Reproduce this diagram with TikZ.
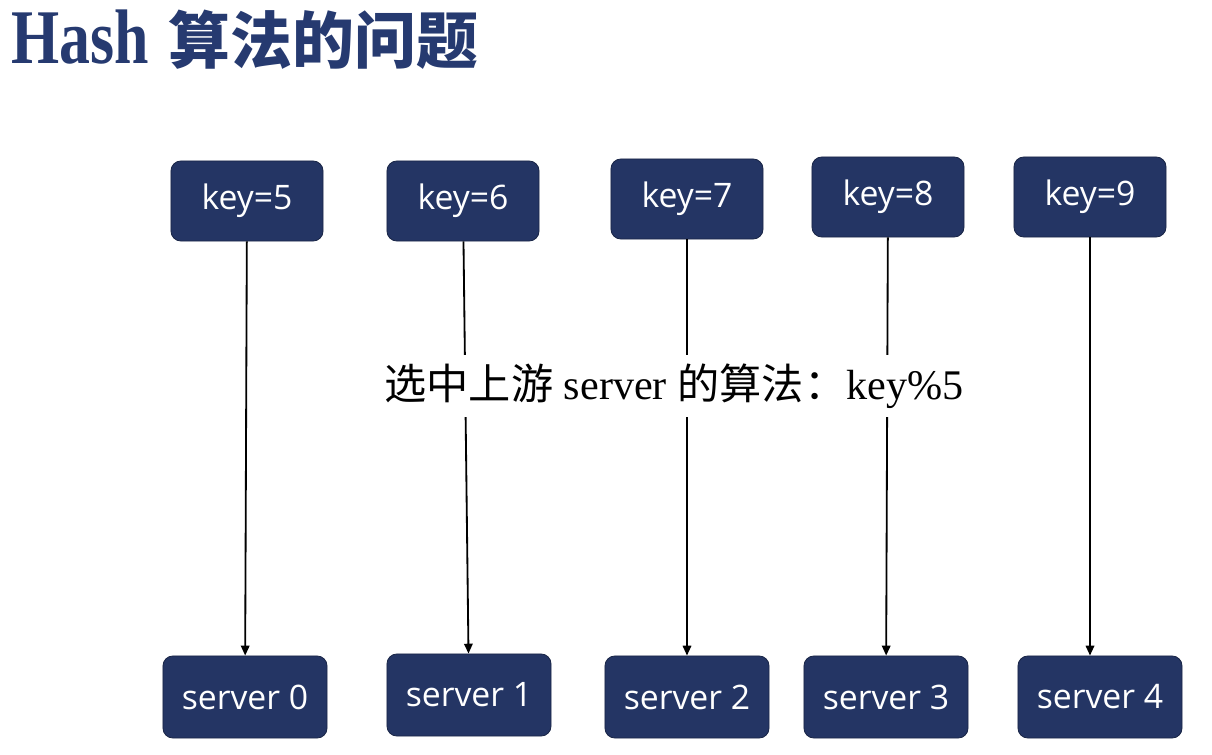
\documentclass[tikz,border=0pt]{standalone}
\usepackage{fontspec}
\setmainfont{Liberation Serif}
\newfontfamily\cjk{Noto Sans CJK SC}
\newfontfamily\titlefont[FakeStretch=0.8]{Liberation Serif}
\newfontfamily\boxfont{Open Sans}
\usetikzlibrary{arrows.meta,positioning}
\definecolor{slidenavy}{RGB}{36,53,100}
\definecolor{titlenavy}{RGB}{38,58,112}
\newcommand{\keynode}[3]{\node[keybox] (#1) at (#2) {#3};}
\newcommand{\servernode}[3]{\node[serverbox] (#1) at (#2) {#3};}

\begin{document}
\begin{tikzpicture}[x=0.025cm,y=0.025cm,
	keybox/.style={draw=slidenavy!70!black,fill=slidenavy,line width=0.6pt,rounded corners=7pt,
		text=white,font=\boxfont\fontsize{24}{29}\selectfont,minimum width=3.8cm,minimum height=2cm},
	serverbox/.style={keybox,minimum width=4.1cm,minimum height=2.05cm},
	hashline/.style={-{Triangle[length=7pt,width=6pt]},line width=1.3pt,black}]
		\useasboundingbox (0,0) rectangle (1212,-755);
		\node[anchor=base west,inner sep=0pt,text=titlenavy] (title) at (11,-64)
			{{\titlefont\bfseries\fontsize{55}{60}\selectfont Hash}\hspace{14pt}{\cjk\bfseries\fontsize{44}{50}\selectfont 算法的问题}};
		\keynode{key5}{247,-201}{key=5} \keynode{key6}{463,-201}{key=6} \keynode{key7}{687,-199}{key=7}
		\keynode{key8}{888,-197}{key=8} \keynode{key9}{1090,-197}{key=9}
		\servernode{srv0}{245,-697}{server 0} \servernode{srv1}{469,-695}{server 1} \servernode{srv2}{687,-697}{server 2}
		\servernode{srv3}{886,-697}{server 3} \servernode{srv4}{1100,-697}{server 4}
		\draw[hashline] (key5) -- (srv0); \draw[hashline] (key6) -- (srv1); \draw[hashline] (key7) -- (srv2);
		\draw[hashline] (key8) -- (srv3); \draw[hashline] (key9.south) -- (key9.south |- srv4.north);
		\node[fill=white,inner sep=6pt,font=\fontsize{30}{36}\selectfont] (rule) at (674,-386)
			{{\cjk 选中上游} server {\cjk 的算法：}key\%5};
\end{tikzpicture}
\end{document}
